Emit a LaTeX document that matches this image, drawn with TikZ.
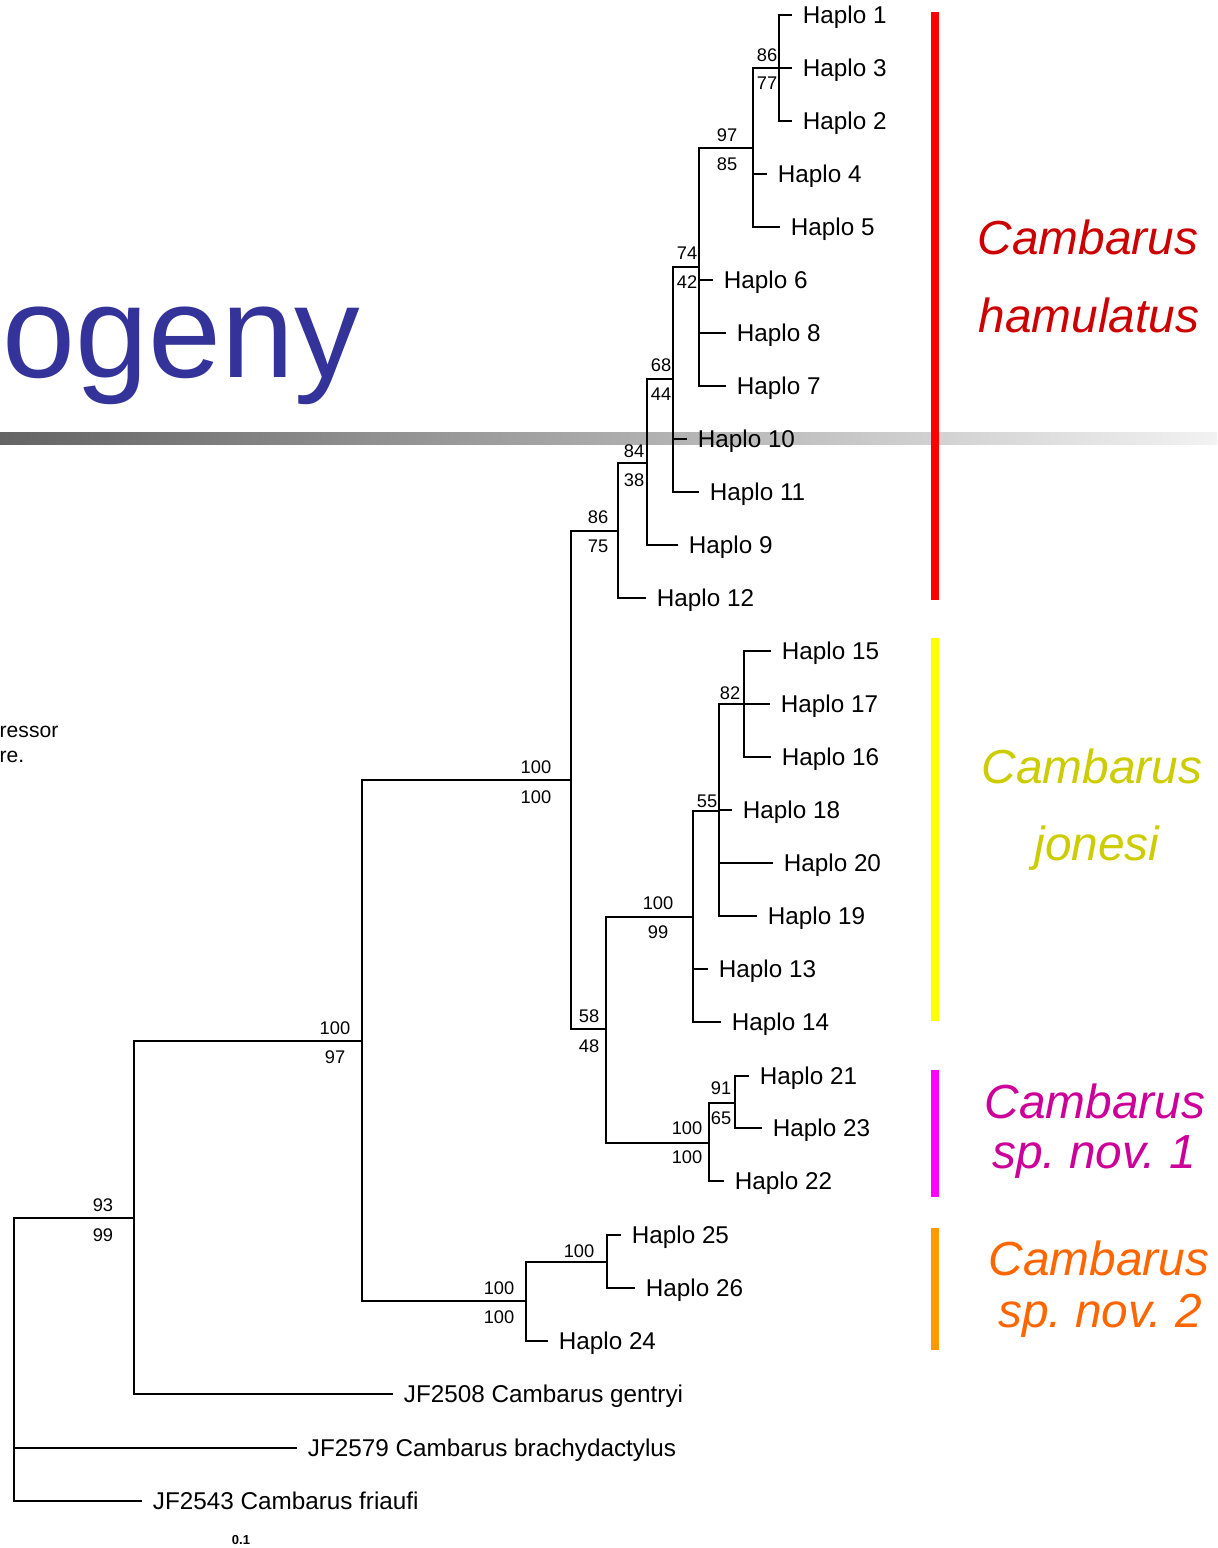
\documentclass[tikz,border=0pt]{standalone}
\usepackage{fontspec}
\setmainfont{Liberation Sans}
\usetikzlibrary{positioning}
\definecolor{titleblue}{HTML}{333399}
\definecolor{hamtext}{HTML}{CC0000}
\definecolor{hambar}{HTML}{FF0000}
\definecolor{jontext}{HTML}{CCCC00}
\definecolor{jonbar}{HTML}{FFFF00}
\definecolor{novtext}{HTML}{CC0099}
\definecolor{novbar}{HTML}{FF00FF}
\definecolor{novtwotext}{HTML}{FF6600}
\definecolor{novtwobar}{HTML}{FF9900}
\definecolor{bardark}{HTML}{646464}
\definecolor{barlight}{HTML}{F2F2F2}
\frenchspacing

\begin{document}
\begin{tikzpicture}[x=0.01cm,y=-0.01cm,
  leaf/.style={anchor=west,inner xsep=2.9pt,inner ysep=0pt,text depth=0pt,font=\fontsize{6.9}{8}\selectfont},
  boot/.style={inner sep=0pt,font=\fontsize{5.2}{6}\selectfont},
  branch/.style={line width=0.6pt},
  cladebar/.style={line width=2.3pt},
  cladename/.style={anchor=base,inner sep=0pt,font=\fontsize{13.6}{16}\selectfont\itshape}]
  \useasboundingbox (0,0) rectangle (1217,1548);

  % slide leftovers
  \shade[left color=bardark,right color=barlight] (0,432) rectangle (1217,444);
  \node[anchor=base west,inner sep=0pt,text=titleblue,font=\fontsize{37.3}{44}\selectfont] (title) at (2,377) {ogeny};
  \node[anchor=base west,inner sep=0pt,font=\fontsize{6}{7}\selectfont] (noteA) at (-1,737) {ressor};
  \node[anchor=base west,inner sep=0pt,font=\fontsize{6}{7}\selectfont] (noteB) at (-1,762) {re.};

  % leaves
  \node[leaf] (h1) at (792,15) {Haplo 1};
  \node[leaf] (h3) at (792,68) {Haplo 3};
  \node[leaf] (h2) at (792,121) {Haplo 2};
  \node[leaf] (h4) at (767,174) {Haplo 4};
  \node[leaf] (h5) at (780,227) {Haplo 5};
  \node[leaf] (h6) at (713,280) {Haplo 6};
  \node[leaf] (h8) at (726,333) {Haplo 8};
  \node[leaf] (h7) at (726,386) {Haplo 7};
  \node[leaf] (h10) at (687,439) {Haplo 10};
  \node[leaf] (h11) at (699,492) {Haplo 11};
  \node[leaf] (h9) at (678,545) {Haplo 9};
  \node[leaf] (h12) at (646,598) {Haplo 12};
  \node[leaf] (h15) at (771,651) {Haplo 15};
  \node[leaf] (h17) at (770,704) {Haplo 17};
  \node[leaf] (h16) at (771,757) {Haplo 16};
  \node[leaf] (h18) at (732,810) {Haplo 18};
  \node[leaf] (h20) at (773,863) {Haplo 20};
  \node[leaf] (h19) at (757,916) {Haplo 19};
  \node[leaf] (h13) at (708,969) {Haplo 13};
  \node[leaf] (h14) at (721,1022) {Haplo 14};
  \node[leaf] (h21) at (749,1076) {Haplo 21};
  \node[leaf] (h23) at (762,1128) {Haplo 23};
  \node[leaf] (h22) at (724,1181) {Haplo 22};
  \node[leaf] (h25) at (621,1235) {Haplo 25};
  \node[leaf] (h26) at (635,1288) {Haplo 26};
  \node[leaf] (h24) at (548,1341) {Haplo 24};
  \node[leaf] (gen) at (393,1394) {JF2508 Cambarus gentryi};
  \node[leaf] (bra) at (297,1448) {JF2579 Cambarus brachydactylus};
  \node[leaf] (fri) at (142,1501) {JF2543 Cambarus friaufi};

  % internal nodes
  \coordinate (cA) at (779,68);
  \coordinate (cB) at (753,148);
  \coordinate (cC) at (699,267);
  \coordinate (cD) at (673,379);
  \coordinate (cE) at (647,463);
  \coordinate (cF) at (618,531);
  \coordinate (cG) at (744,704);
  \coordinate (cH) at (719,811);
  \coordinate (cI) at (693,917);
  \coordinate (cJ) at (735,1103);
  \coordinate (cK) at (709,1143);
  \coordinate (cL) at (606,1029);
  \coordinate (cM) at (571,780);
  \coordinate (cN) at (607,1262);
  \coordinate (cO) at (526,1301);
  \coordinate (cP) at (362,1041);
  \coordinate (cQ) at (134,1218);
  \coordinate (root) at (14,1448);

  \draw[branch]
  (cA) |- (h1.west) (cA) |- (h3.west) (cA) |- (h2.west)
  (cB) |- (cA) (cB) |- (h4.west) (cB) |- (h5.west)
  (cC) |- (cB) (cC) |- (h6.west) (cC) |- (h8.west) (cC) |- (h7.west)
  (cD) |- (cC) (cD) |- (h10.west) (cD) |- (h11.west)
  (cE) |- (cD) (cE) |- (h9.west)
  (cF) |- (cE) (cF) |- (h12.west)
  (cG) |- (h15.west) (cG) |- (h17.west) (cG) |- (h16.west)
  (cH) |- (cG) (cH) |- (h18.west) (cH) |- (h20.west) (cH) |- (h19.west)
  (cI) |- (cH) (cI) |- (h13.west) (cI) |- (h14.west)
  (cJ) |- (h21.west) (cJ) |- (h23.west)
  (cK) |- (cJ) (cK) |- (h22.west)
  (cL) |- (cI) (cL) |- (cK)
  (cM) |- (cF) (cM) |- (cL)
  (cN) |- (h25.west) (cN) |- (h26.west)
  (cO) |- (cN) (cO) |- (h24.west)
  (cP) |- (cM) (cP) |- (cO)
  (cQ) |- (cP) (cQ) |- (gen.west)
  (root) |- (cQ) (root) |- (bra.west) (root) |- (fri.west);

  % bootstrap values
  \node[boot] (bA1) at (767,55) {86};   \node[boot] (bA2) at (767,83) {77};
  \node[boot] (bB1) at (727,135) {97};  \node[boot] (bB2) at (727,164) {85};
  \node[boot] (bC1) at (687,253) {74};  \node[boot] (bC2) at (687,282) {42};
  \node[boot] (bD1) at (661,365) {68};  \node[boot] (bD2) at (661,394) {44};
  \node[boot] (bE1) at (634,451) {84};  \node[boot] (bE2) at (634,480) {38};
  \node[boot] (bF1) at (598,517) {86};  \node[boot] (bF2) at (598,546) {75};
  \node[boot] (bM1) at (536,767) {100}; \node[boot] (bM2) at (536,797) {100};
  \node[boot] (bG1) at (730,693) {82};
  \node[boot] (bH1) at (707,801) {55};
  \node[boot] (bI1) at (658,903) {100}; \node[boot] (bI2) at (658,932) {99};
  \node[boot] (bL1) at (589,1016) {58}; \node[boot] (bL2) at (589,1046) {48};
  \node[boot] (bJ1) at (721,1088) {91}; \node[boot] (bJ2) at (721,1118) {65};
  \node[boot] (bK1) at (687,1128) {100}; \node[boot] (bK2) at (687,1157) {100};
  \node[boot] (bN1) at (579,1251) {100};
  \node[boot] (bO1) at (499,1288) {100}; \node[boot] (bO2) at (499,1317) {100};
  \node[boot] (bP1) at (335,1028) {100}; \node[boot] (bP2) at (335,1057) {97};
  \node[boot] (bQ1) at (103,1205) {93}; \node[boot] (bQ2) at (103,1235) {99};

  \node[inner sep=0pt,font=\fontsize{3.7}{4}\selectfont\bfseries] (scale) at (241,1540) {0.1};

  % clades
  \draw[cladebar,hambar] (935,12) -- (935,600);
  \draw[cladebar,jonbar] (935,638) -- (935,1021);
  \draw[cladebar,novbar] (935,1070) -- (935,1197);
  \draw[cladebar,novtwobar] (935,1228) -- (935,1350);
  \node[cladename,text=hamtext] (hamA) at (1088,254) {Cambarus};
  \node[cladename,text=hamtext] (hamB) at (1089,332) {hamulatus};
  \node[cladename,text=jontext] (jonA) at (1092,783) {Cambarus};
  \node[cladename,text=jontext] (jonB) at (1097,860) {jonesi};
  \node[cladename,text=novtext] (novA) at (1095,1118) {Cambarus};
  \node[cladename,text=novtext] (novB) at (1094,1168) {sp. nov. 1};
  \node[cladename,text=novtwotext] (nvtA) at (1099,1275) {Cambarus};
  \node[cladename,text=novtwotext] (nvtB) at (1100,1327) {sp. nov. 2};
\end{tikzpicture}
\end{document}
